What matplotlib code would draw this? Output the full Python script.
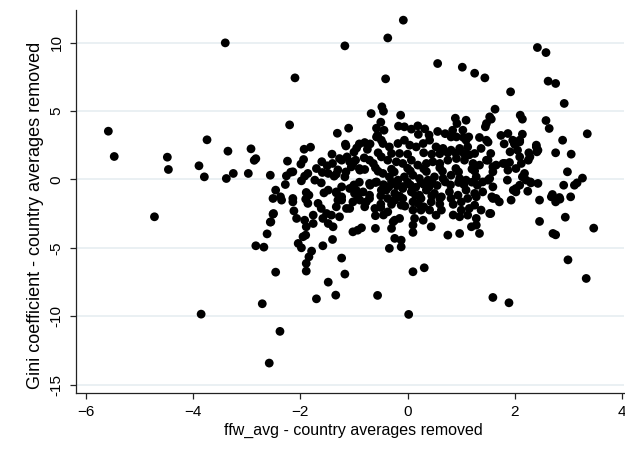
import matplotlib
matplotlib.use("Agg")
import matplotlib.pyplot as plt

# points, far from the main cloud
outlier_x = [-5.58, -5.47, -4.72, -4.48, -4.46, -3.89, -3.79, -3.74, -3.40, -3.35, -3.38, -3.25,
             -2.97, -2.92, -2.86, -2.83, -2.56, -2.20, -2.10, -1.17, -1.10, -1.31, -1.16, -1.15,
             -3.85, -2.71, -2.38, -2.58, -2.46, -2.83, -2.68, -2.62, -2.56, -2.51, -1.70, -1.34,
             -1.48, -1.17, -1.23, -0.08, -0.37, -0.41, 0.56, 1.02, 1.25, 1.44, 1.92, 2.42, 2.58,
             2.62, 2.76, 2.92, 3.35, 1.63, 0.02, -0.56, 1.59, 1.89, 2.99, 3.33, 3.47, 2.71, 2.76,
             0.10, 0.31, -0.34, -0.24, -0.12, -0.12]
outlier_y = [3.53, 1.68, -2.73, 1.63, 0.73, 1.00, 0.19, 2.90, 9.99, 2.07, 0.07, 0.44,
             0.44, 2.24, 1.40, 1.52, 0.31, 3.99, 7.43, 9.77, 3.75, 3.38, 2.58, 2.45,
             -9.85, -9.09, -11.11, -13.43, -6.78, -4.85, -4.95, -3.98, -3.12, -2.54, -8.73, -8.46,
             -7.51, -6.92, -5.75, 11.65, 10.35, 7.36, 8.48, 8.21, 7.77, 7.43, 6.41, 9.65, 9.28,
             7.19, 7.02, 5.56, 3.34, 5.14, -9.87, -8.48, -8.63, -9.02, -5.88, -7.24, -3.56, -3.95, -4.05,
             -6.75, -6.46, -5.04, -4.31, -4.44, -4.93]

# left half of the main cloud
left_x = [-2.24, -2.18, -2.26, -1.93, -1.81, -1.94, -1.99, -1.86, -1.98, -1.73, -1.61, -1.41,
          -1.40, -1.59, -1.48, -1.37, -1.27, -1.13, -1.02, -0.97, -2.28, -2.46, -2.37, -2.51,
          -2.14, -2.50, -2.55, -2.12, -2.07, -1.89, -1.84, -1.90, -1.86, -1.56, -1.33, -1.30,
          -2.14, -1.92, -1.23, -1.08, -0.81, -0.71, -0.64, -1.33, -1.17, -1.05, -0.89, -0.80,
          -1.48, -1.33, -1.23, -1.08, -0.96, -0.83, -0.71, -0.58, -0.49, -2.14, -1.23, -0.93,
          -0.71, -2.35, -1.92, -1.89, -1.90, -1.95, -2.04, -1.98, -1.79, -1.84, -1.89, -1.89,
          -1.58, -1.40, -1.67, -1.61, -1.76, -1.76, -1.58, -1.48, -1.39, -1.27, -1.42, -1.33,
          -1.23, -1.14, -1.02, -0.89, -0.77, -0.71, -0.61, -1.02, -0.93, -0.86, -0.60, -1.51,
          -1.08, -0.99, -1.02, -0.58, -0.49, -0.80, -0.95, -1.00, -0.75,
          -1.50, -1.30, -1.15, -1.60, -1.70, -0.70, -0.90]
left_y = [1.34, 0.53, 0.26, 2.21, 2.36, 1.46, 1.12, 0.44, -0.10, -0.05, -0.25, 1.85,
          1.17, 0.51, 0.44, 0.24, 1.53, 1.65, 1.17, 1.41, -0.37, -0.78, -1.27, -1.39,
          -1.64, -2.49, -3.10, -2.30, -2.85, -0.95, -1.15, -1.44, -1.75, -0.98, -0.98, -1.51,
          0.56, 0.24, 1.41, 1.29, 1.58, 1.41, 1.17, 0.39, 0.19, 0.92, 0.68, 0.73,
          -0.78, -0.91, -0.54, -0.66, -0.78, -0.91, -0.29, -0.18, -0.78, -1.39, -1.27, -1.27,
          -1.15, -1.51, -2.98, -3.46, -4.07, -4.19, -4.68, -5.00, -5.24, -5.66, -6.14, -6.70,
          -4.85, -4.39, -1.75, -2.12, -2.61, -3.22, -2.85, -3.22, -3.46, -2.73, -2.61, -2.00,
          -1.51, -2.12, -1.64, -1.51, -1.64, -1.39, -2.12, -3.83, -3.71, -3.54, -3.58, -2.49,
          -2.12, -1.02, -0.54, 3.11, 2.87, 2.70, 2.30, 2.00, 2.20,
          1.00, 0.70, 0.55, 1.30, 0.80, 2.60, 2.60]

# upper part of the main cloud
upper_x = [-0.68, -0.48, -0.45, -0.13, -0.50, -0.58, -0.44, -0.56, -0.17, -0.06, 0.07, 0.19,
           0.32, 0.56, 0.89, 1.09, 0.92, 0.81, 0.91, 1.03, 1.04, 1.14, 1.53, 1.56, 1.47, 1.45,
           1.34, 1.47, 1.50, 1.74, 1.87, 1.96, 2.09, 2.14, 0.84, 1.09,
           -0.46, -0.34, -0.18, -0.06, 0.04, 0.16, 0.29, 0.41, 0.53, 0.66, 0.81, 0.97, 1.12,
           1.25, 1.37, -0.30, 0.00, 0.30, 0.60, 0.90, 1.15,
           -0.55, -0.15, 0.45, 0.75, 1.05, 0.20, 0.40, 0.70, 1.80, 2.00]
upper_y = [4.82, 5.31, 4.99, 4.70, 4.19, 3.75, 3.60, 3.24, 3.90, 3.85, 3.68, 3.92,
           3.70, 3.51, 4.48, 4.33, 4.09, 3.11, 3.11, 3.60, 3.07, 3.11, 4.58, 4.41, 4.09, 3.85,
           3.07, 2.87, 2.73, 3.22, 3.36, 2.87, 2.87, 3.31, 3.60, 2.87,
           2.63, 2.38, 2.63, 2.87, 2.51, 2.38, 2.63, 2.87, 2.38, 2.27, 2.14, 2.27, 2.38,
           1.90, 2.27, 1.90, 1.85, 1.95, 1.88, 1.92, 1.80,
           1.95, 1.90, 1.85, 1.95, 1.90, 3.30, 3.25, 3.35, 2.60, 2.55]

# dense centre of the cloud
core_x = [-0.49, -0.37, -0.21, -0.09, 0.07, 0.19, 0.35, 0.47, 0.60, 0.75, 0.91, 1.06, 1.22, 1.34, 1.47,
          -0.46, -0.34, -0.18, -0.06, 0.10, 0.22, 0.38, 0.50, 0.66, 0.81, 0.97, 1.09, 1.28, 1.40, 1.53,
          -0.40, -0.24, -0.09, 0.07, 0.22, 0.35, 0.50, 0.63, 0.78, 0.94, 1.09, 1.25, 1.40,
          -0.90, -0.60, -0.30, 0.00, 0.30, 0.60, 0.90, 1.20,
          -1.00, -0.70, -0.45, -0.20, 0.05, 0.30, 0.55, 0.80, 1.05, 1.30,
          -0.35, -0.10, 0.15, 0.40,
          -0.37, -0.24, -0.09, 0.10, 0.25, 0.44, 0.60, 0.81, 1.00, 1.12, 1.28, 1.59,
          -0.37, -0.24, -0.27, -0.30, -0.15, -0.12, 0.10, 0.13, 0.10, 0.10, 0.25, 0.29, 0.41,
          0.44, 0.53, 0.63, 0.75, 0.97, 0.97, 1.00, 1.12, 1.15, 1.28, 1.25, 1.19, 1.34, 1.37,
          1.53, 1.28, -0.80, -0.50, -0.05, 0.30,
          -0.55, -0.25, 0.05, 0.35, 0.65, 0.95, 1.25,
          -0.90, -0.60, -0.30, 0.00, 0.25, 0.45, 0.70, 0.95, 1.20,
          -0.50, -0.15, 0.15, 0.45,
          -0.45, -0.60, 0.85, -0.50, -0.30, 0.20, 0.60, 0.85]
core_y = [1.65, 1.41, 1.29, 1.17, 1.41, 1.05, 1.17, 1.29, 1.17, 1.41, 1.53, 1.41, 1.17, 1.05, 1.41,
          0.44, 0.19, -0.05, 0.19, 0.31, 0.07, -0.05, 0.19, 0.07, 0.31, 0.07, -0.05, 0.19, -0.18, 0.07,
          -0.78, -1.02, -0.66, -0.91, -1.15, -0.78, -1.02, -1.27, -0.91, -1.15, -0.78, -1.02, -0.91,
          0.80, 0.85, 0.75, 0.82, 0.78, 0.85, 0.80, 0.76,
          -0.40, -0.42, -0.38, -0.45, -0.40, -0.36, -0.44, -0.40, -0.38, -0.42,
          -0.55, -0.52, -0.58, -0.55,
          -1.39, -1.51, -1.39, -1.64, -1.39, -1.64, -1.39, -1.39, -1.64, -1.39, -1.27, -1.39,
          -2.37, -2.98, -3.10, -3.58, -2.85, -1.88, -2.24, -2.85, -3.34, -3.87, -2.24, -2.98, -2.24,
          -3.46, -2.61, -2.24, -4.07, -3.95, -2.73, -2.24, -2.61, -2.12, -2.85, -1.88, -3.46, -3.95, -2.24,
          -2.49, -3.34, -2.00, -2.05, -1.95, -2.00,
          0.60, 0.55, 0.62, 0.58, 0.60, 0.55, 0.62,
          -0.20, -0.22, -0.18, -0.20, -0.24, -0.20, -0.18, -0.22, -0.20,
          -1.20, -1.22, -1.18, -1.20,
          -2.60, -2.65, -2.60, -1.80, -1.82, -1.78, -1.80, -1.82]

# right part of the cloud
right_x = [2.10, 2.14, 2.58, 2.64, 2.89, 2.76, 3.05, 2.98, 3.26, 3.16, 3.11, 2.91, 2.70, 2.84,
           2.76, 3.04, 2.46, 2.46, 2.94, 2.24, 2.43, 2.29, 2.40, 2.41, 2.26, 2.28, 1.93, 1.55,
           1.55, 1.50, 1.59, 1.65, 1.78, 1.90, 1.87, 1.91, 2.05, 2.09, 2.12, 2.25, 1.86, 2.14,
           2.09, 1.97, 2.02, 1.50, 1.59, 1.57, 1.71, 1.65, 1.99, 2.09, 2.43, 2.40, 1.59, 1.81,
           2.02, 2.83, 2.68, 2.02, 2.18, 2.21, 2.30]
right_y = [4.70, 4.41, 4.31, 3.73, 2.87, 1.95, 1.85, 0.56, 0.10, -0.25, -0.42, -0.42, -1.10, -1.44,
           -1.64, -1.27, -1.51, -3.07, -2.76, -0.86, -0.29, -0.18, 2.38, 2.02, 1.95, 1.65, -1.51, -2.49,
           1.90, 1.41, 0.92, 1.05, 1.17, 1.24, 0.68, 2.02, 2.14, 1.65, 1.17, 1.41, -0.05, 0.19,
           -0.42, -0.78, -0.91, -0.05, -0.54, -1.27, -1.64, -1.39, 2.63, 2.75, 2.14, 2.51, 0.56, 1.17,
           -0.66, -1.32, -1.27, 0.80, 0.44, -0.05, -0.25]

ffw = outlier_x + left_x + upper_x + core_x + right_x
gini = outlier_y + left_y + upper_y + core_y + right_y

plt.rcParams['font.family'] = ['Liberation Sans', 'DejaVu Sans']
plt.rcParams['font.size'] = 11

fig = plt.figure(figsize=(6.25, 4.55), dpi=100)
ax = fig.add_axes([0.121, 0.1356, 0.877, 0.842])

ax.scatter(ffw, gini, s=40, color='black', edgecolors='none', zorder=3)

ax.set_xlim(-6.19, 4.03)
ax.set_ylim(-15.64, 12.38)
ax.set_xticks([-6, -4, -2, 0, 2, 4])
ax.set_yticks([-15, -10, -5, 0, 5, 10])
ax.set_yticklabels(['-15', '-10', '-5', '0', '5', '10'], rotation=90, va='center')

ax.grid(axis='y', color='#e6eef1', linewidth=1.2, zorder=0)
ax.grid(axis='x', visible=False)
for side in ['top', 'right']:
    ax.spines[side].set_visible(False)
for side in ['left', 'bottom']:
    ax.spines[side].set_color('#222222')
    ax.spines[side].set_linewidth(0.9)
ax.tick_params(direction='out', length=4.5, width=0.9, color='#222222', labelsize=11, pad=4)

ax.set_xlabel('ffw_avg - country averages removed', fontsize=11.5)
ax.set_ylabel('Gini coefficient - country averages removed', fontsize=13)
ax.xaxis.set_label_coords(0.506, -0.078)
ax.yaxis.set_label_coords(-0.058, 0.465)

fig.savefig('out.png', dpi=100)
